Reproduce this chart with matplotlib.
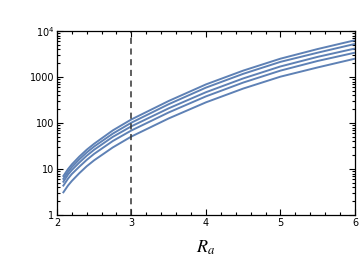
import matplotlib
matplotlib.use("Agg")
import matplotlib.pyplot as plt
import numpy as np
from matplotlib.ticker import LogLocator, MultipleLocator, FixedLocator, FixedFormatter, NullFormatter

# values (x = R_a)
ra = [2.08, 2.15, 2.2, 2.3, 2.4, 2.5, 2.75, 3.0, 3.5, 4.0, 4.5, 5.0, 5.5, 6.0]
curve1 = [6.8, 10.0, 12.6, 18.6, 26.3, 35.5, 69.2, 120, 302, 692, 1380, 2510, 4070, 6310]
curve2 = [5.9, 8.7, 11.0, 16.2, 22.9, 30.9, 58.9, 102, 257, 589, 1175, 2140, 3390, 5250]
curve3 = [5.1, 7.6, 9.5, 13.8, 19.5, 26.3, 50.1, 85, 209, 468, 933, 1700, 2750, 4170]
curve4 = [4.2, 6.2, 7.8, 11.2, 15.8, 21.4, 40.7, 69, 170, 380, 759, 1380, 2240, 3390]
curve5 = [3.0, 4.4, 5.5, 8.1, 11.5, 15.5, 29.5, 51, 126, 282, 562, 1020, 1620, 2510]
ra_mark = 3.0

ytick_vals = [1, 10, 100, 1000, 10000]
ytick_labels = ["1", "10", "100", "1000", r"$10^4$"]

fig = plt.figure(figsize=(3.6, 2.61), dpi=100)
ax = fig.add_axes([0.158, 0.176, 0.828, 0.705])

col = '#5E81B5'
for c in [curve1, curve2, curve3, curve4, curve5]:
    ax.plot(ra, c, color=col, lw=1.4, solid_capstyle='butt', solid_joinstyle='round')

ax.axvline(ra_mark, color='#333333', lw=1.1, ls=(0, (4, 3)))

ax.set_yscale('log')
ax.set_xlim(2, 6)
ax.set_ylim(1, 10000)

ax.xaxis.set_major_locator(MultipleLocator(1))
ax.xaxis.set_minor_locator(MultipleLocator(0.2))
ax.yaxis.set_major_locator(FixedLocator(ytick_vals))
ax.yaxis.set_major_formatter(FixedFormatter(ytick_labels))
ax.yaxis.set_minor_locator(LogLocator(base=10, subs=np.arange(2, 10)))
ax.yaxis.set_minor_formatter(NullFormatter())

ax.tick_params(which='both', direction='in', top=True, right=True, width=0.8,
               labelsize=7, pad=2)
ax.tick_params(which='major', length=4.5)
ax.tick_params(which='minor', length=2.5)
for s in ax.spines.values():
    s.set_linewidth(0.9)

ax.set_xlabel(r'$R_a$', fontsize=13, labelpad=8, math_fontfamily='stix')

fig.savefig('out.png', dpi=100)
